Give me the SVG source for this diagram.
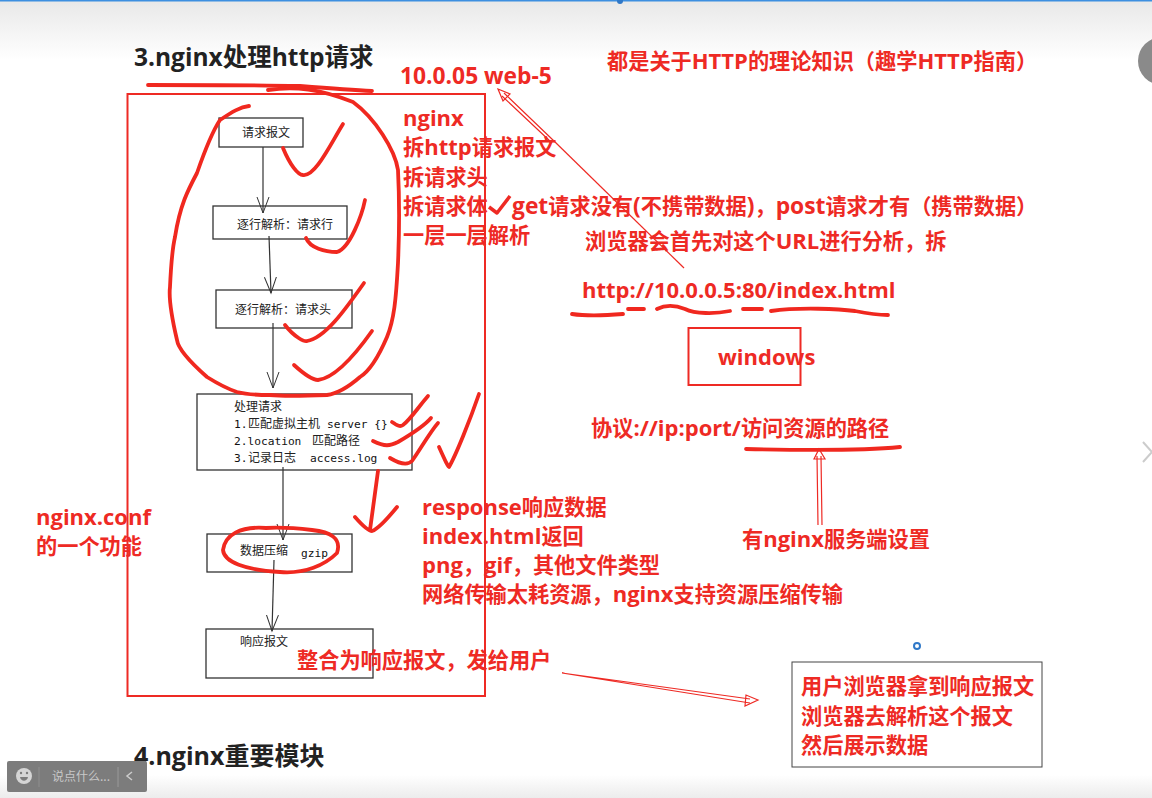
<svg xmlns="http://www.w3.org/2000/svg" width="1152" height="798" viewBox="0 0 1152 798">
<defs>
<linearGradient id="top" x1="0" y1="0" x2="0" y2="1"><stop offset="0" stop-color="#e8e8e8"/><stop offset="1" stop-color="#ffffff"/></linearGradient>
<linearGradient id="bot" x1="0" y1="0" x2="0" y2="1"><stop offset="0" stop-color="#ffffff"/><stop offset="1" stop-color="#ececec"/></linearGradient>
<marker id="open" markerWidth="18" markerHeight="14" refX="16" refY="6.500" orient="auto" markerUnits="userSpaceOnUse"><path d="M0 0.500L16 6.500L0 12.500" fill="none" stroke="#333" stroke-width="1"/></marker>
</defs>
<style>
.box{fill:#fff;stroke:#333;stroke-width:1.3}
.t{font-family:"Noto Sans CJK SC","Noto Sans",sans-serif;font-size:12px;fill:#222}
.m{font-family:"DejaVu Sans Mono",monospace;font-size:11.2px;fill:#111}
.c{font-family:"Noto Sans CJK SC",sans-serif;font-size:12px;fill:#222;font-weight:400}
.h{font-family:"Open Sans","Noto Sans CJK SC",sans-serif;font-weight:700;font-size:25px;fill:#222}
.r{font-family:"Open Sans","Noto Sans CJK SC",sans-serif;font-weight:700;font-size:21.200px;fill:#ee2a24}
.l{font-size:22px}
.w{font-size:22.800px}
.ink{fill:none;stroke:#f0281f;stroke-width:3.800;stroke-linecap:round;stroke-linejoin:round}
.fr{fill:none;stroke:#ee2a24;stroke-width:2}
.conn{fill:none;stroke:#333;stroke-width:1.2;marker-end:url(#open)}
.thin{fill:none;stroke:#ee2a24;stroke-width:1.2}
</style>
<rect width="1152" height="798" fill="#fff"/>
<rect width="1152" height="60" fill="url(#top)"/>
<rect y="775" width="1152" height="23" fill="url(#bot)"/>
<rect width="1152" height="1.500" fill="#3d8fe0"/>
<circle cx="620" cy="1" r="3" fill="#2f78c8"/>
<circle cx="1162" cy="61" r="24" fill="#8a8a8a"/>
<path d="M1143 442L1152 452L1143 462" fill="none" stroke="#ccc" stroke-width="2"/>

<g id="nodes">
<g id="n1"><rect class="box" x="219" y="118" width="84" height="29"/><text class="t" x="242" y="137">请求报文</text></g>
<g id="n2"><rect class="box" x="213" y="206" width="134" height="33"/><text class="t" x="237" y="229">逐行解析：请求行</text></g>
<g id="n3"><rect class="box" x="216" y="290" width="136" height="38"/><text class="t" x="235" y="314">逐行解析：请求头</text></g>
<g id="n4"><rect class="box" x="197" y="394" width="215" height="76"/>
<text class="t" x="234" y="411">处理请求</text>
<text class="m" x="234" y="428">1.<tspan class="c" x="248">匹配虚拟主机</tspan><tspan x="327">server {}</tspan></text>
<text class="m" x="234" y="445">2.location<tspan class="c" x="312">匹配路径</tspan></text>
<text class="m" x="234" y="462">3.<tspan class="c" x="248">记录日志</tspan><tspan x="310">access.log</tspan></text></g>
<g id="n5"><rect class="box" x="207" y="534" width="145" height="38"/><text class="t" x="240" y="555">数据压缩</text><text class="m" x="301" y="557">gzip</text></g>
<g id="n6"><rect class="box" x="206" y="629" width="167" height="49"/><text class="t" x="240" y="646">响应报文</text></g>
</g>
<g id="connectors">
<path class="conn" d="M263 147V213"/>
<path class="conn" d="M269 236L271 293"/>
<path class="conn" d="M273 323V388"/>
<path class="conn" d="M283 467V540"/>
<path class="conn" d="M274 560L272 631"/>
</g>

<g id="frames">
<rect class="fr" x="127.500" y="94" width="357.500" height="602"/>
<rect class="fr" x="688.500" y="328" width="112" height="57"/>
<rect x="792" y="662" width="250" height="105" fill="none" stroke="#444" stroke-width="1"/>
</g>

<g id="ink">
<path class="ink" d="M148 85C200 85 250 85 300 86C325 88 350 90 372 91"/>
<path class="ink" d="M268 90C295 86 320 89 353 102C375 118 395 150 398 170C400 210 399 240 398 263C396 300 394 320 387 337C378 358 368 372 360 377C345 390 335 394 327 395C300 396 280 396 270 395C255 395 245 394 237 392C225 388 215 382 207 377C190 362 178 348 177 340C170 310 169 295 170 287C171 265 172 250 175 237C180 205 188 190 197 173C205 150 212 132 220 120C232 112 240 107 249 106"/>
<path class="ink" d="M283 148C290 165 298 175 303 175C315 177 330 145 343 124"/>
<path class="ink" d="M306 238C310 248 325 252 337 252C350 248 362 215 365 200"/>
<path class="ink" d="M285 325C295 338 305 342 307 341C325 338 345 310 364 283"/>
<path class="ink" d="M294 365C305 375 312 380 318 380C335 378 355 355 372 331"/>
<path class="ink" d="M392 422C398 426 400 427 403 425C410 420 420 405 428 396"/>
<path class="ink" d="M373 441C385 447 390 446 398 442C410 435 425 425 431 418"/>
<path class="ink" d="M390 458C400 464 408 465 412 461C420 450 430 432 438 423"/>
<path class="ink" d="M439 447C445 460 448 467 449 467C456 455 470 420 479 394"/>
<path class="ink" d="M378 471L370 530M355 517C362 525 368 531 372 531C378 529 388 518 397 507"/>
<path class="ink" d="M266 528C240 526 225 535 223 550C224 562 245 570 280 572C305 574 325 565 337 553C342 538 330 532 312 530C295 528 280 527 266 528Z"/>
<path class="ink" d="M572 314C585 316 600 316 623 314M628 309H644M657 309C665 305 675 305 685 309C695 314 715 314 730 311M743 309H762M771 311C800 307 840 309 855 311C870 314 880 315 888 315"/>
<path class="ink" d="M746 449C790 450 860 451 900 447"/>
<path d="M489 207L497 213L510 196" fill="none" stroke="#ee2a24" stroke-width="3.500" stroke-linejoin="round"/>
</g>

<g id="arrows">
<path class="thin" d="M684 268L554 141"/>
<path class="thin" d="M554 141L504 93M552 143L502 96"/>
<path class="thin" d="M498 89L510 94L503 101Z" fill="#fff"/>
<path class="thin" d="M822 525L821 456M818 525L817 456"/>
<path class="thin" d="M819 449L814 459H825Z" fill="#fff"/>
<path class="thin" d="M562 673L750 699M562 673L750 703"/>
<path class="thin" d="M758 700L746 695L745 706Z" fill="#fff"/>
</g>

<g id="labels">
<text class="h" x="134" y="66" style="font-size:24.500px">3.nginx处理http请求</text>
<text class="h" x="134" y="765">4.nginx重要模块</text>
<text class="r" x="400" y="84"><tspan class="w">10.0.05 web-5</tspan></text>
<text class="r" x="607" y="69">都是关于<tspan class="l">HTTP</tspan>的理论知识（趣学<tspan class="l">HTTP</tspan>指南）</text>
<text class="r" x="403" y="126"><tspan class="l">nginx</tspan></text>
<text class="r" x="403" y="155">拆<tspan class="l">http</tspan>请求报文</text>
<text class="r" x="403" y="185">拆请求头</text>
<text class="r" x="403" y="214">拆请求体</text>
<text class="r" x="512" y="214"><tspan class="w">get</tspan>请求没有<tspan class="w">(</tspan>不携带数据<tspan class="w">)</tspan>，<tspan class="w">post</tspan>请求才有（携带数据）</text>
<text class="r" x="403" y="243">一层一层解析</text>
<text class="r" x="585" y="249">浏览器会首先对这个<tspan class="l">URL</tspan>进行分析，拆</text>
<text class="r" x="582" y="298"><tspan class="l">http://10.0.0.5:80/index.html</tspan></text>
<text class="r" x="718" y="365"><tspan class="l">windows</tspan></text>
<text class="r" x="591" y="436">协议<tspan class="l">://ip:port/</tspan>访问资源的路径</text>
<text class="r" x="742" y="547">有<tspan class="l">nginx</tspan>服务端设置</text>
<text class="r" x="36" y="525"><tspan class="l">nginx.conf</tspan></text>
<text class="r" x="36" y="554">的一个功能</text>
<text class="r" x="422" y="515"><tspan class="l">response</tspan>响应数据</text>
<text class="r" x="422" y="544"><tspan class="l">index.html</tspan>返回</text>
<text class="r" x="422" y="573"><tspan class="l">png</tspan>，<tspan class="l">gif</tspan>，其他文件类型</text>
<text class="r" x="422" y="602">网络传输太耗资源，<tspan class="l">nginx</tspan>支持资源压缩传输</text>
<text class="r" x="297" y="668">整合为响应报文，发给用户</text>
<text class="r" x="801" y="694">用户浏览器拿到响应报文</text>
<text class="r" x="801" y="724">浏览器去解析这个报文</text>
<text class="r" x="801" y="753">然后展示数据</text>
</g>
<circle cx="917" cy="646" r="3" fill="none" stroke="#2f78c8" stroke-width="2"/>
<g id="chat">
<rect x="7" y="761" width="140" height="31" rx="2" fill="#7c7c7c"/>
<circle cx="24" cy="776" r="8" fill="#d5d5d5"/>
<path d="M20 777C21 782 27 782 28 777Z" fill="#7c7c7c"/>
<circle cx="21" cy="773" r="1.200" fill="#7c7c7c"/>
<circle cx="27" cy="773" r="1.200" fill="#7c7c7c"/>
<line x1="39" y1="767" x2="39" y2="787" stroke="#8e8e8e"/>
<line x1="118" y1="767" x2="118" y2="787" stroke="#999"/>
<text x="52" y="781" font-family="Noto Sans CJK SC, sans-serif" font-size="12" fill="#c8c8c8">说点什么...</text>
<path d="M132 772L127 776L132 780" fill="none" stroke="#ccc" stroke-width="1.500"/>
</g>
</svg>
